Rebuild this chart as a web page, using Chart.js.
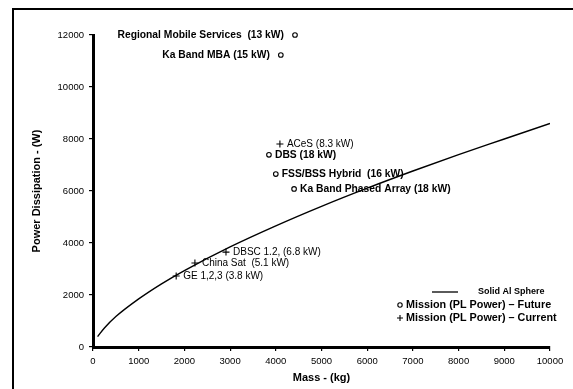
<!DOCTYPE html>
<html>
<head>
<meta charset="utf-8">
<script src="https://cdn.jsdelivr.net/npm/chart.js@4/dist/chart.umd.min.js"></script>
<style>
  html, body { margin: 0; padding: 0; background: #fff; }
  #wrap { width: 573px; height: 389px; }
</style>
</head>
<body>
<div id="wrap"><canvas id="chart"></canvas></div>
<script>
// Solid Al Sphere curve (mass kg -> power W)
const sphereMass  = [100, 250, 500, 1000, 1500, 2000, 3000, 4000, 5000, 6000, 7000, 8000, 9000, 10000];
const spherePower = [400, 730, 1170, 1850, 2430, 2940, 3850, 4660, 5410, 6110, 6770, 7400, 8000, 8600];

// Future missions (circles)
const futureNames = ['Regional Mobile Services  (13 kW)', 'Ka Band MBA (15 kW)', 'DBS (18 kW)',
                     'FSS/BSS Hybrid  (16 kW)', 'Ka Band Phased Array (18 kW)'];
const futureMass  = [4420, 4110, 3850, 4000, 4400];
const futurePower = [12000, 11230, 7390, 6650, 6080];

// Current missions (crosses)
const currentNames = ['ACeS (8.3 kW)', 'DBSC 1.2, (6.8 kW)', 'China Sat  (5.1 kW)', 'GE 1,2,3 (3.8 kW)'];
const currentMass  = [4090, 2910, 2230, 1820];
const currentPower = [7810, 3650, 3230, 2730];

const xTicks = [0, 1000, 2000, 3000, 4000, 5000, 6000, 7000, 8000, 9000, 10000];
const yTicks = [0, 2000, 4000, 6000, 8000, 10000, 12000];

const FONT = '"Liberation Sans", Arial, Helvetica, sans-serif';

const zip = (xs, ys) => xs.map((x, i) => ({ x: x, y: ys[i] }));

/* frame + point labels + inner legend */
const decor = {
  id: 'decor',
  afterDraw(chart) {
    const c = chart.ctx;
    const a = chart.chartArea;
    c.save();

    // outer frame (left + top only)
    c.strokeStyle = '#000';
    c.lineWidth = 2;
    c.beginPath();
    c.moveTo(13, 389);
    c.lineTo(13, 9);
    c.lineTo(573, 9);
    c.stroke();

    // point labels
    c.fillStyle = '#000';
    c.textBaseline = 'middle';
    const fut = chart.getDatasetMeta(1).data;
    fut.forEach((p, i) => {
      c.font = 'bold 10.3px ' + FONT;
      if (futurePower[i] > 10000) {
        c.textAlign = 'right';
        c.fillText(futureNames[i], p.x - 11, p.y);
      } else {
        c.textAlign = 'left';
        c.fillText(futureNames[i], p.x + 6, p.y);
      }
    });
    const cur = chart.getDatasetMeta(2).data;
    cur.forEach((p, i) => {
      c.font = '10px ' + FONT;
      c.textAlign = 'left';
      c.fillText(currentNames[i], p.x + 7, p.y);
    });

    // legend inside plot
    const lx = a.right - 150;
    c.font = 'bold 9px ' + FONT;
    c.textAlign = 'left';
    c.lineWidth = 1.3;
    c.beginPath();
    c.moveTo(a.right - 118, a.bottom - 55);
    c.lineTo(a.right - 92, a.bottom - 55);
    c.stroke();
    c.fillText('Solid Al Sphere', a.right - 72, a.bottom - 55);

    c.lineWidth = 1.1;
    c.beginPath();
    c.arc(lx, a.bottom - 42, 2.2, 0, Math.PI * 2);
    c.stroke();
    c.font = 'bold 10.8px ' + FONT;
    c.fillText('Mission (PL Power) \u2013 Future', lx + 6, a.bottom - 42);

    c.beginPath();
    c.moveTo(lx - 3, a.bottom - 29);
    c.lineTo(lx + 3, a.bottom - 29);
    c.moveTo(lx, a.bottom - 32);
    c.lineTo(lx, a.bottom - 26);
    c.stroke();
    c.fillText('Mission (PL Power) \u2013 Current', lx + 6, a.bottom - 29);

    c.restore();
  }
};

new Chart(document.getElementById('chart').getContext('2d'), {
  type: 'scatter',
  data: {
    datasets: [
      {
        label: 'Solid Al Sphere',
        type: 'line',
        data: zip(sphereMass, spherePower),
        borderColor: '#000',
        borderWidth: 1.4,
        pointRadius: 0,
        cubicInterpolationMode: 'monotone',
        fill: false
      },
      {
        label: 'Mission (PL Power) - Future',
        data: zip(futureMass, futurePower),
        pointStyle: 'circle',
        pointRadius: 2.3,
        borderColor: '#000',
        borderWidth: 1.1,
        backgroundColor: '#fff',
        clip: false
      },
      {
        label: 'Mission (PL Power) - Current',
        data: zip(currentMass, currentPower),
        pointStyle: 'cross',
        pointRadius: 3.5,
        borderColor: '#000',
        borderWidth: 1.1,
        clip: false
      }
    ]
  },
  options: {
    responsive: true,
    maintainAspectRatio: false,
    animation: false,
    layout: { padding: { left: 30, right: 23, top: 35, bottom: 0 } },
    plugins: {
      legend: { display: false },
      tooltip: { enabled: false }
    },
    scales: {
      x: {
        type: 'linear',
        min: 0,
        max: 10000,
        afterBuildTicks: s => { s.ticks = xTicks.map(v => ({ value: v })); },
        afterFit: s => { s.height = 42; },
        border: { color: '#000', width: 3 },
        grid: { drawOnChartArea: false, color: '#000', lineWidth: 1.2, tickLength: 4 },
        ticks: { color: '#000', font: { family: FONT, size: 9.5 }, padding: 5, maxRotation: 0,
                 callback: v => String(v) },
        title: {
          display: true,
          text: 'Mass - (kg)',
          color: '#000',
          font: { family: FONT, size: 11, weight: 'bold' },
          padding: { top: 2, bottom: 4 }
        }
      },
      y: {
        type: 'linear',
        min: 0,
        max: 12000,
        afterBuildTicks: s => { s.ticks = yTicks.map(v => ({ value: v })); },
        afterFit: s => { s.width = 63; },
        border: { color: '#000', width: 3 },
        grid: { drawOnChartArea: false, color: '#000', lineWidth: 1.2, tickLength: 4 },
        ticks: { color: '#000', font: { family: FONT, size: 9.5 }, padding: 5,
                 callback: v => String(v) },
        title: {
          display: true,
          text: 'Power Dissipation - (W)',
          color: '#000',
          font: { family: FONT, size: 11, weight: 'bold' },
          padding: 0
        }
      }
    }
  },
  plugins: [decor]
});
</script>
</body>
</html>
